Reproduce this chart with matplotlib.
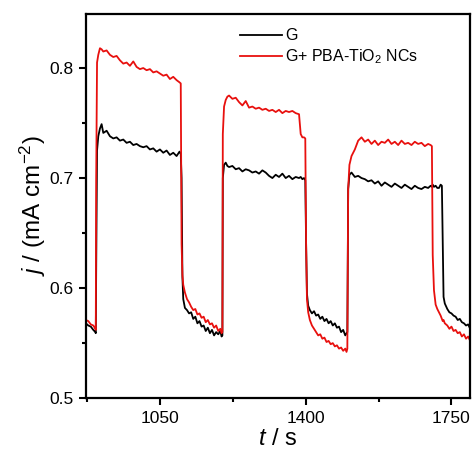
import numpy as np
import matplotlib
matplotlib.use("Agg")
import matplotlib.pyplot as plt
from matplotlib.ticker import MultipleLocator

plt.rcParams["font.family"] = ["Liberation Sans", "DejaVu Sans"]
plt.rcParams["mathtext.fontset"] = "custom"
plt.rcParams["mathtext.rm"] = "Liberation Sans"
plt.rcParams["mathtext.it"] = "Liberation Sans:italic"

# time (s)
t = [872, 878, 884, 890, 895,
     896, 897, 899, 902, 906, 910,
     914, 922, 930, 938, 946, 954, 962, 970, 978, 986, 994, 1002, 1010, 1018, 1026, 1034,
     1042, 1050, 1058, 1066, 1074, 1082, 1090, 1097,
     1100, 1102, 1104, 1106, 1110, 1115, 1120, 1125, 1130, 1135, 1140, 1145, 1150, 1155,
     1160, 1165, 1170, 1175, 1180, 1185, 1190, 1195, 1198,
     1200, 1201, 1204, 1208, 1212,
     1216, 1224, 1232, 1240, 1248, 1256, 1264, 1272, 1280, 1288, 1296, 1304, 1312, 1320,
     1328, 1336, 1344, 1352, 1360, 1368, 1376, 1384,
     1388, 1392, 1396, 1399, 1401, 1403, 1406,
     1410, 1415, 1420, 1425, 1430, 1435, 1440, 1445, 1450, 1455, 1460, 1465, 1470, 1475,
     1480, 1485, 1490, 1495, 1498,
     1500, 1502, 1505, 1510, 1518, 1526,
     1534, 1542, 1550, 1558, 1566, 1574, 1582, 1590, 1598, 1606, 1614, 1622, 1630, 1638,
     1646, 1654, 1662, 1670, 1678, 1686, 1694, 1700,
     1703, 1705, 1708, 1712, 1716, 1720, 1724, 1727, 1729, 1731, 1734,
     1740, 1745, 1750, 1755, 1760, 1765, 1770, 1775, 1780, 1785, 1790, 1795]

# G
j_g = [0.568, 0.566, 0.565, 0.562, 0.560,
       0.559, 0.620, 0.725, 0.738, 0.745, 0.749,
       0.741, 0.743, 0.738, 0.736, 0.737, 0.734, 0.735, 0.732, 0.733, 0.730, 0.731, 0.729,
       0.728, 0.729, 0.726, 0.727, 0.724, 0.726, 0.723, 0.725, 0.721, 0.723, 0.720, 0.724,
       0.722, 0.700, 0.610, 0.590, 0.582, 0.580, 0.577, 0.578, 0.572, 0.574, 0.568, 0.570,
       0.565, 0.566, 0.561, 0.564, 0.559, 0.562, 0.557, 0.560, 0.558, 0.561, 0.556,
       0.557, 0.700, 0.712, 0.714, 0.711,
       0.710, 0.711, 0.708, 0.709, 0.706, 0.708, 0.707, 0.705, 0.706, 0.704, 0.707, 0.705,
       0.702, 0.700, 0.703, 0.701, 0.704, 0.700, 0.702, 0.699, 0.701, 0.700,
       0.701, 0.699, 0.700, 0.698, 0.640, 0.595, 0.584,
       0.580, 0.577, 0.579, 0.575, 0.576, 0.572, 0.574, 0.570, 0.572, 0.568, 0.570, 0.566,
       0.568, 0.564, 0.565, 0.560, 0.562, 0.557, 0.559,
       0.560, 0.690, 0.703, 0.705, 0.701, 0.702,
       0.700, 0.699, 0.697, 0.698, 0.695, 0.697, 0.693, 0.696, 0.694, 0.692, 0.695, 0.693,
       0.691, 0.694, 0.692, 0.690, 0.693, 0.691, 0.690, 0.692, 0.691, 0.693,
       0.692, 0.694, 0.692, 0.693, 0.691, 0.691, 0.694, 0.693, 0.640, 0.592, 0.586,
       0.581, 0.578, 0.577, 0.575, 0.574, 0.571, 0.572, 0.569, 0.568, 0.566, 0.567, 0.563]

# G+ PBA-TiO2 NCs
j_tio2 = [0.571, 0.570, 0.567, 0.566, 0.563,
          0.562, 0.700, 0.805, 0.812, 0.818, 0.817,
          0.815, 0.816, 0.812, 0.810, 0.811, 0.807, 0.804, 0.805, 0.802, 0.806, 0.801, 0.799,
          0.800, 0.798, 0.799, 0.796, 0.797, 0.795, 0.793, 0.794, 0.790, 0.792, 0.789, 0.787,
          0.786, 0.640, 0.612, 0.603, 0.596, 0.590, 0.587, 0.583, 0.580, 0.581, 0.576, 0.577,
          0.573, 0.574, 0.569, 0.571, 0.567, 0.568, 0.564, 0.566, 0.561, 0.563, 0.559,
          0.560, 0.740, 0.765, 0.771, 0.774,
          0.775, 0.772, 0.773, 0.769, 0.766, 0.770, 0.764, 0.765, 0.763, 0.764, 0.762, 0.763,
          0.761, 0.762, 0.760, 0.762, 0.759, 0.761, 0.760, 0.761, 0.759, 0.758,
          0.740, 0.737, 0.737, 0.736, 0.640, 0.590, 0.578,
          0.571, 0.566, 0.563, 0.560, 0.557, 0.558, 0.554, 0.555, 0.551, 0.552, 0.549, 0.550,
          0.547, 0.548, 0.545, 0.546, 0.543, 0.545, 0.542,
          0.545, 0.690, 0.712, 0.720, 0.726, 0.734,
          0.737, 0.733, 0.735, 0.731, 0.734, 0.730, 0.733, 0.732, 0.735, 0.731, 0.733, 0.730,
          0.734, 0.731, 0.732, 0.730, 0.733, 0.731, 0.732, 0.729, 0.731, 0.730,
          0.729, 0.630, 0.598, 0.585, 0.581, 0.578, 0.575, 0.572, 0.570, 0.571, 0.568,
          0.566, 0.563, 0.565, 0.561, 0.562, 0.559, 0.560, 0.556, 0.558, 0.554, 0.556, 0.552]

fig = plt.figure(figsize=(4.74, 4.55), dpi=100)
ax = fig.add_axes([0.181, 0.125, 0.811, 0.844])

ax.plot(t, j_g, color="black", lw=1.3, label="G")
ax.plot(t, j_tio2, color="#e8100e", lw=1.3, label="G+ PBA-TiO$_2$ NCs")

ax.set_xlim(872, 1795)
ax.set_ylim(0.5, 0.849)
ax.set_xticks([1050, 1400, 1750])
ax.xaxis.set_minor_locator(MultipleLocator(350, offset=175))
ax.yaxis.set_major_locator(MultipleLocator(0.1))
ax.yaxis.set_minor_locator(MultipleLocator(0.05))
ax.tick_params(which="major", direction="out", length=5, width=1.5, labelsize=12.5, pad=4)
ax.tick_params(which="minor", direction="out", length=3, width=1.5)
for s in ax.spines.values():
    s.set_linewidth(1.6)

ax.set_xlabel("$t$ / s", fontsize=17, labelpad=2)
ax.set_ylabel("$j$ / (mA cm$^{-2}$)", fontsize=17.5, labelpad=1)

ax.legend(loc="upper left", bbox_to_anchor=(0.365, 1.0), frameon=False, fontsize=11.5,
          handlelength=2.6, handletextpad=0.2, labelspacing=0.25)

fig.savefig("out.png", dpi=100)
